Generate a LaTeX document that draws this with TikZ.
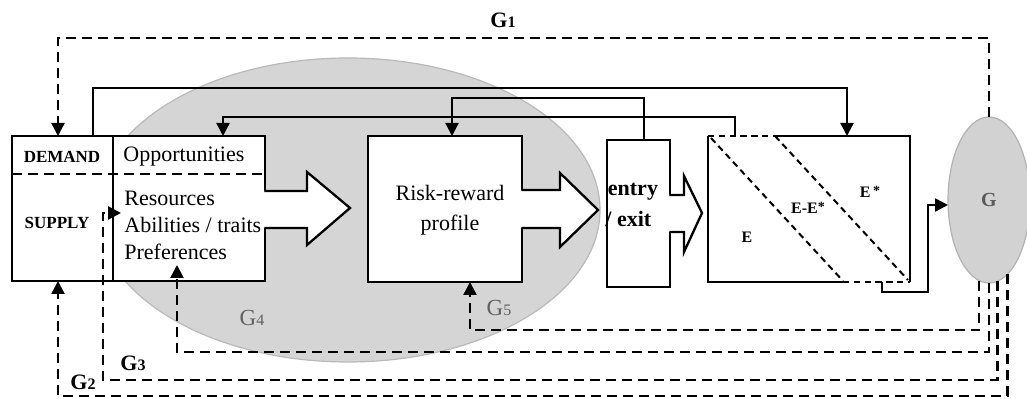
\documentclass[tikz,border=0pt]{standalone}
\usepackage{fontspec}
\setmainfont{Liberation Serif}
\usetikzlibrary{arrows.meta,shapes.geometric}
\begin{document}
\begin{tikzpicture}[x=0.5pt,y=-0.5pt,
  ln/.style={line width=1.15pt},
  box/.style={draw, line width=1.15pt, fill=white, rectangle, inner sep=0pt, outer sep=0pt},
  fb/.style={line width=1.2pt, dash pattern=on 5pt off 3pt},
  fine/.style={line width=1pt, dash pattern=on 3.2pt off 2.2pt},
  tip/.style={-{Triangle[length=6.5pt,width=6.5pt]}},
  lbl/.style={font=\fontsize{11}{13}\selectfont, inner sep=0pt},
  capslbl/.style={font=\fontsize{8.5}{10}\selectfont\bfseries, inner sep=0pt},
  elab/.style={font=\fontsize{8}{10}\selectfont\bfseries, inner sep=0pt},
  gb/.style={font=\fontsize{11}{13}\selectfont\bfseries, inner sep=0pt},
  gg/.style={font=\fontsize{11.5}{13}\selectfont, text=gray!75!black, inner sep=0pt}]
\useasboundingbox (0,0) rectangle (1027,399);

% shaded region G4
\fill[gray!33, draw=gray!55, line width=0.6pt] (348,210) ellipse [x radius=126pt, y radius=76pt];

% DEMAND / SUPPLY and opportunities boxes
\node[box, minimum width=50.5pt, minimum height=72.5pt] (dem) at (62.5,208.5) {};
\node[box, minimum width=76pt, minimum height=72.5pt] (opp) at (189,208.5) {};
\draw[fb] (12,174) -- (265,174);
\fill[white] (263.4,191) -- (307,191) -- (307,172) -- (350,208) -- (307,245) -- (307,228) -- (263.4,228) -- cycle;
\draw[ln] (264.4,191) -- (307,191) -- (307,172) -- (350,208) -- (307,245) -- (307,228) -- (264.4,228);

\node[capslbl] (tdem) at (62,157) {DEMAND};
\node[capslbl] (tsup) at (57,223) {SUPPLY};
\node[lbl, anchor=west] (topp) at (123,157) {Opportunities};
\node[lbl, anchor=west] (tres) at (124,198) {Resources};
\node[lbl, anchor=west] (tabi) at (124,225) {Abilities / traits};
\node[lbl, anchor=west] (tpre) at (124,252) {Preferences};

% Risk-reward profile
\node[box, minimum width=77pt, minimum height=73pt] (RR) at (445,209) {};
\node[align=center, inner sep=0pt, font=\fontsize{11}{15}\selectfont] (tRR) at (450,210) {Risk-reward\\profile};
\fill[white] (520.4,190) -- (560,190) -- (560,173) -- (598,210) -- (560,247) -- (560,228) -- (520.4,228) -- cycle;
\draw[ln] (521.4,190) -- (560,190) -- (560,173) -- (598,210) -- (560,247) -- (560,228) -- (521.4,228);

% entry / exit
\node[box, minimum width=31.5pt, minimum height=73.5pt] (EX) at (638.5,213.5) {};
\node[lbl, font=\fontsize{11}{13}\selectfont\bfseries, anchor=west] (tentry) at (607.5,192) {entry};
\node[lbl, font=\fontsize{11}{13}\selectfont\bfseries, anchor=west] (texit) at (605,219) {/ exit};
\fill[white] (668.4,195) -- (684,195) -- (684,176) -- (702,213) -- (684,252) -- (684,232) -- (668.4,232) -- cycle;
\draw[ln] (669.4,195) -- (684,195) -- (684,176) -- (702,213) -- (684,252) -- (684,232) -- (669.4,232);

% E box
\node[rectangle, fill=white, minimum width=101pt, minimum height=73pt, inner sep=0pt, outer sep=0pt] (E) at (809,209) {};
\draw[ln] (775,136) -- (910,136) -- (910,282);
\draw[ln] (708,136) -- (708,282) -- (843,282);
\draw[fine] (708,136) -- (775,136);
\draw[fine] (843,282) -- (910,282);
\draw[fine] (711,138) -- (843,281);
\draw[fine] (775,136) -- (908,280);
\node[elab] (tE) at (747,237) {E};
\node[elab] (tEE) at (808,208) {E-E\raisebox{0.35ex}{\scriptsize *}};
\node[elab] (tEs) at (870,192) {E\,\raisebox{0.35ex}{\scriptsize *}};

% helper coordinates for feedback lines
\coordinate (f5) at (470,330);
\coordinate (f4) at (177,352);
\coordinate (f4e) at (177,265);
\coordinate (f3) at (103,380);
\coordinate (f3t) at (103,213);
\coordinate (f3e) at (121,213);
\coordinate (f2) at (58,396);
\coordinate (g1c) at (58,38);

% G oval
\node[ellipse, draw=gray!60, fill=gray!35, line width=0.6pt, minimum width=41pt, minimum height=83pt,
      inner sep=0pt, outer sep=0pt, font=\fontsize{10}{12}\selectfont\bfseries, text=gray!70!black] (G) at (989,200) {G};

\draw[fb, tip] (G.263.7) |- (f5) -- (f5 |- RR.south);
\draw[fb, tip] (G.270) |- (f4) -- (f4e);
\draw[fb, tip] (G.276.3) |- (f3) -- (f3t) -- (f3e);
\draw[fb, tip] (G.284.5) |- (f2) -- (f2 |- dem.south);
\draw[fb, tip] (G.north) -- (G.north |- g1c) -- (g1c) -- (g1c |- dem.north);

% solid connectors
\coordinate (a1) at (93,88);
\coordinate (a2) at (847,88);
\draw[ln, tip] (a1 |- dem.north) -- (a1) -- (a2) -- (a2 |- E.north);

\coordinate (b1) at (735,117);
\coordinate (b2) at (223,117);
\draw[ln, tip] (b1 |- E.north) -- (b1) -- (b2) -- (b2 |- opp.north);

\coordinate (c1) at (644,98);
\coordinate (c2) at (452,98);
\draw[ln, tip] (c1 |- EX.north) -- (c1) -- (c2) -- (c2 |- RR.north);

\coordinate (e1) at (882,292);
\coordinate (e2) at (928,292);
\coordinate (e3) at (928,205);
\draw[ln, tip] (e1 |- E.south) -- (e1) -- (e2) -- (e3) -- (e3 -| G.west);

% labels
\node[gb] (G1) at (503,20) {G\fontsize{8}{9}\selectfont 1};
\node[gb] (G2) at (83,382) {G\fontsize{8}{9}\selectfont 2};
\node[gb] (G3) at (133,363) {G\fontsize{8}{9}\selectfont 3};
\node[gg] (G4) at (252,318) {G\fontsize{8}{9}\selectfont 4};
\node[gg] (G5) at (499,308) {G\fontsize{8}{9}\selectfont 5};
\end{tikzpicture}
\end{document}
